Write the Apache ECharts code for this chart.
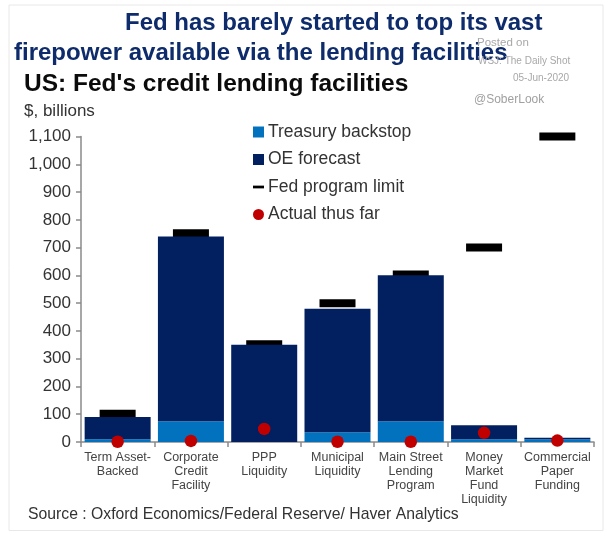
<!DOCTYPE html>
<html>
<head>
<meta charset="utf-8">
<style>html,body{margin:0;padding:0;background:#fff}#chart{width:611px;height:537px}</style>
<script src="https://cdn.jsdelivr.net/npm/echarts@6/dist/echarts.min.js"></script>
</head>
<body>
<div id="chart"></div>
<script>
const categories = ["Term Asset-\nBacked", "Corporate\nCredit\nFacility", "PPP\nLiquidity", "Municipal\nLiquidity", "Main Street\nLending\nProgram", "Money\nMarket\nFund\nLiquidity", "Commercial\nPaper\nFunding"];
const treasury = [10, 75, 0, 35, 75, 10, 10];
const oeForecast = [80, 665, 350, 445, 525, 50, 5];
const programLimit = [102, 752, 352, 500, 603, 700, 1100];
const actual = [1, 4, 47, 1, 1, 33, 5];

const font = "Liberation Sans";
const chart = echarts.init(document.getElementById("chart"), null, { renderer: "canvas" });

function heading(text, left, top, size, color, bold) {
  return { text, left, top, padding: 0, textStyle: { fontFamily: font, fontSize: size, color, fontWeight: bold ? "bold" : "normal" } };
}

const option = {
  animation: false,
  backgroundColor: "#fff",
  title: [
    heading("Fed has barely started to top its vast", 125, 11, 24, "#0e2c6b", true),
    heading("firepower available via the lending facilities", 14, 41, 24, "#0e2c6b", true),
    heading("US: Fed's credit lending facilities", 24, 72, 24.5, "#0b0b0b", true),
    heading("$, billions", 24, 103, 17, "#333", false),
    heading("Posted on", 477, 37, 11.5, "#a8a8a8", false),
    heading("WSJ: The Daily Shot", 478, 56, 10, "#a8a8a8", false),
    heading("05-Jun-2020", 513, 73, 10, "#a8a8a8", false),
    heading("@SoberLook", 474, 94, 12, "#a0a0a0", false),
    heading("Source : Oxford Economics/Federal Reserve/ Haver Analytics", 28, 507, 15.75, "#333", false),
  ],
  graphic: [{
    type: "rect",
    shape: { x: 9, y: 5, width: 594, height: 525.5 },
    style: { fill: "none", stroke: "#e8e8e8", lineWidth: 1 },
    silent: true,
  }],
  legend: {
    orient: "vertical",
    left: 253,
    top: 123,
    padding: 0,
    itemWidth: 11,
    itemHeight: 11,
    itemGap: 9.5,
    textStyle: { fontFamily: font, fontSize: 17.5, color: "#333", padding: [0, 0, 0, -1] },
    data: [
      { name: "Treasury backstop", icon: "path://M0 0H10V10H0Z" },
      { name: "OE forecast", icon: "path://M0 0H10V10H0Z" },
      { name: "Fed program limit", icon: "path://M0 0H12V3H0Z" },
      { name: "Actual thus far", icon: "circle" },
    ],
  },
  grid: { left: 81, right: 17, top: 136.5, bottom: 95 },
  xAxis: {
    type: "category",
    data: categories,
    axisLine: { lineStyle: { color: "#8a8a8a", width: 1.5 } },
    axisTick: { show: true, alignWithLabel: false, length: 5, lineStyle: { color: "#8a8a8a", width: 1.5 } },
    axisLabel: { interval: 0, fontFamily: font, fontSize: 12.5, lineHeight: 14, color: "#444", margin: 9 },
  },
  yAxis: {
    type: "value",
    min: 0,
    max: 1100,
    interval: 100,
    splitLine: { show: false },
    axisLine: { show: true, lineStyle: { color: "#8a8a8a", width: 1.5 } },
    axisTick: { show: true, length: 5, lineStyle: { color: "#8a8a8a", width: 1.5 } },
    axisLabel: {
      fontFamily: font, fontSize: 17, color: "#333", margin: 10,
      formatter: (v) => v.toLocaleString("en-US"),
    },
  },
  series: [
    {
      name: "Fed program limit",
      type: "scatter",
      data: programLimit,
      symbol: "rect",
      symbolSize: [36, 8],
      z: 1,
      itemStyle: { color: "#000", opacity: 1 },
    },
    {
      name: "Treasury backstop",
      type: "bar",
      stack: "total",
      data: treasury,
      barWidth: 66,
      z: 2,
      itemStyle: { color: "#0272bf" },
    },
    {
      name: "OE forecast",
      type: "bar",
      stack: "total",
      data: oeForecast,
      barWidth: 66,
      z: 2,
      itemStyle: { color: "#02205f" },
    },
    {
      name: "Actual thus far",
      type: "scatter",
      data: actual,
      symbol: "circle",
      symbolSize: 12.5,
      z: 5,
      clip: false,
      itemStyle: { color: "#c00000", opacity: 1 },
    },
  ],
};
chart.setOption(option);
</script>
</body>
</html>
